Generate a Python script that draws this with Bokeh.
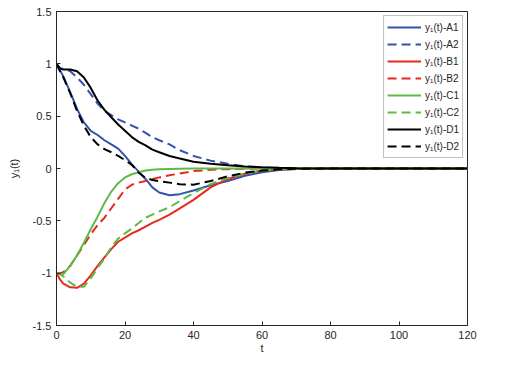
from bokeh.plotting import figure
from bokeh.models import Range1d, FixedTicker, Legend, LegendItem
from bokeh.embed import file_html
from bokeh.resources import INLINE

# ---- data ----
t = [0, 1, 2, 4, 6, 8, 10, 12, 14, 16, 18, 20, 22, 24, 26, 28, 30, 33, 36, 40,
     45, 50, 55, 60, 65, 70, 80, 120]

A1 = [1.0, 0.94, 0.88, 0.73, 0.57, 0.44, 0.36, 0.32, 0.27, 0.23, 0.19, 0.12, 0.04,
      -0.03, -0.10, -0.18, -0.23, -0.255, -0.245, -0.21, -0.16, -0.12, -0.07,
      -0.035, -0.015, -0.005, 0.0, 0.0]
A2 = [1.0, 0.96, 0.95, 0.93, 0.87, 0.80, 0.71, 0.62, 0.55, 0.51, 0.47, 0.44, 0.41,
      0.38, 0.34, 0.30, 0.27, 0.23, 0.175, 0.12, 0.075, 0.045, 0.02, 0.01, 0.005,
      0.002, 0.0, 0.0]
B1 = [-1.0, -1.06, -1.1, -1.135, -1.14, -1.1, -1.02, -0.93, -0.85, -0.77, -0.70,
      -0.66, -0.62, -0.59, -0.555, -0.52, -0.49, -0.44, -0.38, -0.30, -0.18,
      -0.10, -0.05, -0.02, -0.01, -0.004, 0.0, 0.0]
B2 = [-1.0, -1.0, -0.99, -0.93, -0.83, -0.73, -0.63, -0.54, -0.47, -0.38, -0.29,
      -0.20, -0.155, -0.135, -0.12, -0.10, -0.085, -0.065, -0.048, -0.025,
      -0.012, -0.006, -0.003, 0.0, 0.0, 0.0, 0.0, 0.0]
C1 = [-1.0, -1.01, -1.01, -0.93, -0.83, -0.71, -0.58, -0.46, -0.33, -0.22, -0.14,
      -0.085, -0.055, -0.035, -0.02, -0.012, -0.008, -0.004, -0.002, 0.0, 0.0,
      0.0, 0.0, 0.0, 0.0, 0.0, 0.0, 0.0]
C2 = [-1.0, -1.01, -1.03, -1.09, -1.13, -1.13, -1.05, -0.95, -0.86, -0.75, -0.67,
      -0.62, -0.575, -0.52, -0.47, -0.44, -0.41, -0.37, -0.31, -0.235, -0.15,
      -0.09, -0.05, -0.02, -0.008, -0.003, 0.0, 0.0]
D1 = [1.0, 0.955, 0.945, 0.945, 0.93, 0.87, 0.77, 0.65, 0.56, 0.49, 0.42, 0.36,
      0.30, 0.255, 0.22, 0.18, 0.155, 0.12, 0.095, 0.065, 0.045, 0.03, 0.02,
      0.012, 0.006, 0.003, 0.0, 0.0]
D2 = [1.0, 0.93, 0.87, 0.72, 0.55, 0.41, 0.30, 0.23, 0.185, 0.155, 0.12, 0.08,
      0.035, -0.04, -0.09, -0.11, -0.12, -0.135, -0.15, -0.155, -0.12, -0.075,
      -0.04, -0.02, -0.008, -0.003, 0.0, 0.0]

labels = ["y\u2081(t)-A1", "y\u2081(t)-A2", "y\u2081(t)-B1", "y\u2081(t)-B2",
          "y\u2081(t)-C1", "y\u2081(t)-C2", "y\u2081(t)-D1", "y\u2081(t)-D2"]
x_ticks = [0, 20, 40, 60, 80, 100, 120]
y_ticks = [-1.5, -1, -0.5, 0, 0.5, 1, 1.5]
y_tick_labels = ["-1.5", "-1", "-0.5", "0", "0.5", "1", "1.5"]

BLUE = "#3352ad"
RED = "#e8291f"
GREEN = "#5dbb45"
BLACK = "#000000"
FONT = "Liberation Sans"
AX = "#262626"

p = figure(frame_width=411, frame_height=314, output_backend="svg",
           toolbar_location=None, x_range=Range1d(0, 120), y_range=Range1d(-1.5, 1.5),
           min_border_left=56, min_border_right=20, min_border_top=11,
           min_border_bottom=30, background_fill_color="white",
           border_fill_color="white")
p.grid.visible = False
p.outline_line_color = AX
p.outline_line_width = 1

series = [A1, A2, B1, B2, C1, C2, D1, D2]
colors = [BLUE, BLUE, RED, RED, GREEN, GREEN, BLACK, BLACK]
dashes = ["solid", "9 5", "solid", "9 5", "solid", "9 5", "solid", "9 5"]
items = []
for ys, c, d, lab in zip(series, colors, dashes, labels):
    r = p.line(t, ys, line_color=c, line_width=2, line_dash=d)
    items.append(LegendItem(label=lab, renderers=[r]))

legend = Legend(items=items, location="top_right", margin=4, padding=3,
                spacing=1, glyph_width=34, glyph_height=16, label_height=16,
                label_standoff=4, label_text_font=FONT, label_text_font_size="10px",
                label_text_color=AX, border_line_color="#808080",
                border_line_width=1, background_fill_alpha=1.0)
p.add_layout(legend, "center")

for ax in (p.xaxis[0], p.yaxis[0]):
    ax.major_tick_in = 4
    ax.major_tick_out = 0
    ax.minor_tick_in = 0
    ax.minor_tick_out = 0
    ax.axis_line_color = AX
    ax.major_tick_line_color = AX
    ax.major_label_text_font = FONT
    ax.major_label_text_font_size = "11px"
    ax.major_label_text_color = AX
    ax.axis_label_text_font = FONT
    ax.axis_label_text_font_size = "11px"
    ax.axis_label_text_font_style = "normal"
    ax.axis_label_text_color = AX

p.xaxis.ticker = FixedTicker(ticks=x_ticks)
p.yaxis.ticker = FixedTicker(ticks=y_ticks)
p.yaxis.major_label_overrides = {v: s for v, s in zip(y_ticks, y_tick_labels)}
p.xaxis.axis_label = "t"
p.yaxis.axis_label = "y\u2081(t)"
p.xaxis.major_label_standoff = 5
p.yaxis.major_label_standoff = 5
p.xaxis.axis_label_standoff = 0
p.yaxis.axis_label_standoff = 10

open("out.html", "w").write(file_html(p, INLINE))
